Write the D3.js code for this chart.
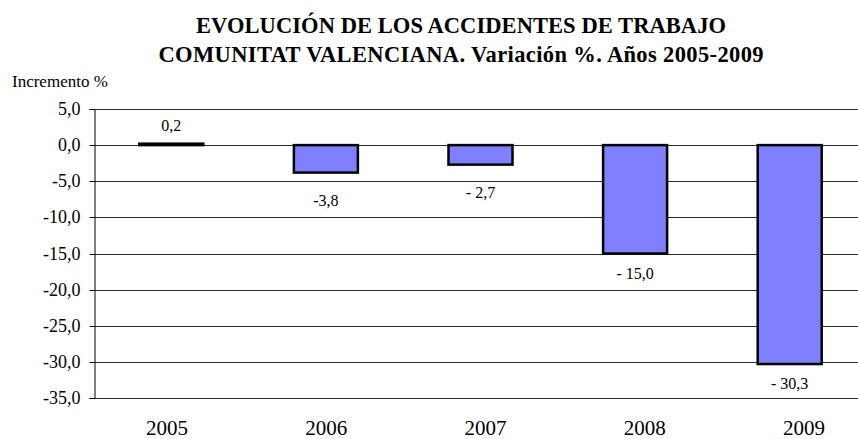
<!DOCTYPE html>
<html><head><meta charset="utf-8">
<script src="https://cdn.jsdelivr.net/npm/d3@7"></script>
</head>
<body style="margin:0;background:#fff">
<svg id="c" width="858" height="439" style="display:block"></svg>
<script>
const years = ["2005","2006","2007","2008","2009"];
const values = [0.2, -3.8, -2.7, -15.0, -30.3];
const valueLabels = ["0,2", "-3,8", "- 2,7", "- 15,0", "- 30,3"];
const yTicks = [5, 0, -5, -10, -15, -20, -25, -30, -35];
const titleLines = ["EVOLUCIÓN DE LOS ACCIDENTES DE TRABAJO", "COMUNITAT VALENCIANA. Variación %. Años 2005-2009"];
const yTitle = "Incremento %";

const FONT = "Liberation Serif";
const svg = d3.select("#c");
const L = 94, R = 867, T = 109, B = 398;
const titleWidths = [530, 605];

const x = d3.scaleBand().domain(years).range([L, R]).paddingInner(0.586).paddingOuter(0.293);
const xl = d3.scalePoint().domain(years).range([167, 804]);
const y = d3.scaleLinear().domain([-35, 5]).range([B, T]);

// title
svg.selectAll("text.title").data(titleLines).join("text")
  .attr("class","title")
  .attr("x", 461).attr("y", (d,i)=>33 + i*29)
  .attr("text-anchor","middle")
  .attr("font-family", FONT)
  .attr("font-weight","bold").attr("font-size", 22.5)
  .attr("textLength", (d,i)=>titleWidths[i]).attr("lengthAdjust","spacing")
  .text(d=>d);

svg.append("text").attr("x", 12).attr("y", 87)
  .attr("font-family", FONT).attr("font-size", 17).text(yTitle);

// grid
svg.append("g").selectAll("line").data(yTicks).join("line")
  .attr("x1", L).attr("x2", R)
  .attr("y1", d=>Math.round(y(d))+0.5).attr("y2", d=>Math.round(y(d))+0.5)
  .attr("stroke", "#2a2a2a").attr("stroke-width", 1);

// y axis
const ya = svg.append("g").attr("transform", `translate(${L+0.5},0)`)
  .call(d3.axisLeft(y).tickValues(yTicks).tickSize(5).tickPadding(9)
    .tickFormat(d=>d3.format(".1f")(d).replace(".",",").replace("\u2212","-")));
ya.attr("font-family", FONT).attr("font-size", 18);
ya.select(".domain").attr("stroke","#000");
ya.selectAll(".tick line").attr("stroke","#000");
ya.selectAll(".tick text").attr("font-family", FONT).attr("font-size", 18).attr("fill","#000");
ya.selectAll(".tick").attr("transform", d=>`translate(0,${Math.round(y(d))+0.5})`);

// bars
svg.append("g").selectAll("rect").data(values).join("rect")
  .attr("x", (d,i)=>x(years[i]))
  .attr("width", x.bandwidth())
  .attr("y", d=>y(Math.max(0,d)))
  .attr("height", d=>Math.abs(y(d)-y(0)))
  .attr("fill", "#8080FF").attr("stroke", "#000").attr("stroke-width", 2.5);

// value labels
svg.append("g").selectAll("text").data(values).join("text")
  .attr("x", (d,i)=>x(years[i]) + x.bandwidth()/2)
  .attr("y", d=> d>=0 ? y(d) - 13 : y(d) + (d > -10 ? 33 : 25))
  .attr("text-anchor","middle")
  .attr("font-family", FONT).attr("font-size", 16)
  .text((d,i)=>valueLabels[i]);

// x labels
svg.append("g").selectAll("text").data(years).join("text")
  .attr("x", d=>xl(d))
  .attr("y", 435)
  .attr("text-anchor","middle")
  .attr("font-family", FONT).attr("font-size", 21)
  .text(d=>d);
</script>
</body></html>
